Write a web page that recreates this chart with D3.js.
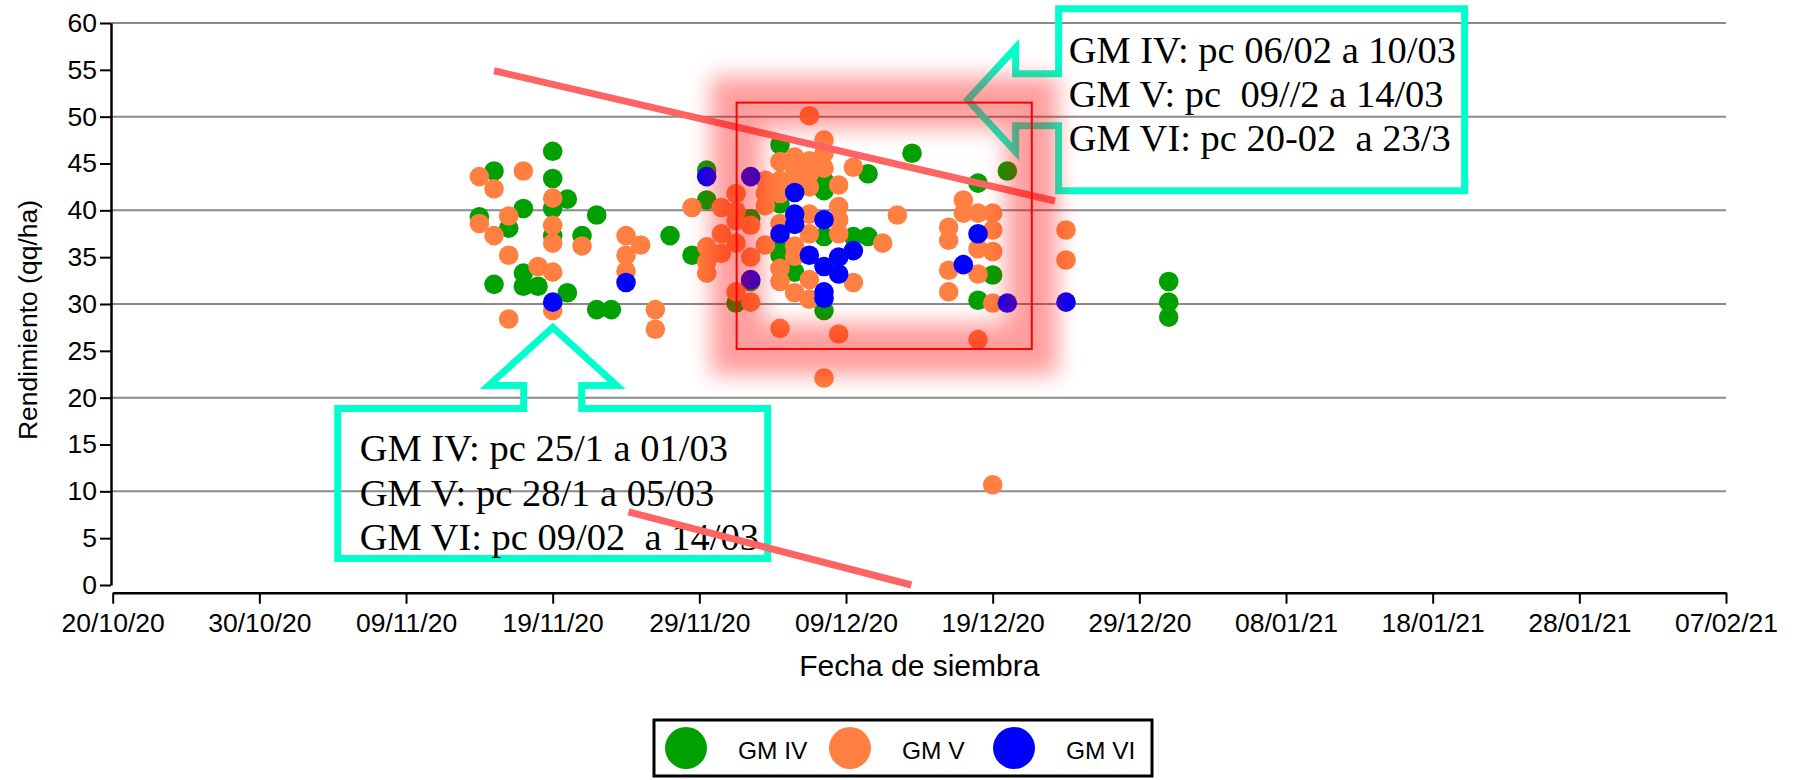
<!DOCTYPE html>
<html lang="es">
<head>
<meta charset="utf-8">
<title>Rendimiento vs fecha de siembra</title>
<script src="https://cdn.jsdelivr.net/npm/d3@7"></script>
<style>
    body { margin: 0; background: #fff; }
    #chart svg { display: block; font-family: "Liberation Sans", Arial, sans-serif; }
    .grid line { stroke: #8a8a8a; stroke-width: 2; }
    .axis path, .axis line { stroke: #000; }
    .axis path { stroke-width: 2.5; }
    .axis line { stroke-width: 2; }
    .axis text { font-size: 26.5px; fill: #000; }
    .note path { fill: none; stroke: #00ffcc; stroke-width: 7; }
    .note text { font-family: "Liberation Serif", serif; font-size: 38.5px; white-space: pre; fill: #000; }
    .legend text { font-size: 24.5px; }
</style>
</head>
<body>
<div id="chart"></div>
<script>
// [fecha de siembra, rendimiento qq/ha]; " 12" = mediodía (puntos que caen entre dos días)
const gmIV = [
    ["2020-11-14", 39.3],
    ["2020-11-15", 44.2], ["2020-11-15", 32.1],
    ["2020-11-16", 38.1],
    ["2020-11-17", 40.2], ["2020-11-17", 33.3], ["2020-11-17", 31.9],
    ["2020-11-18", 31.9],
    ["2020-11-19", 46.3], ["2020-11-19", 43.4], ["2020-11-19", 40.2], ["2020-11-19", 37.3],
    ["2020-11-20", 41.2], ["2020-11-20", 31.2],
    ["2020-11-21", 37.3],
    ["2020-11-22", 39.5], ["2020-11-22", 29.4],
    ["2020-11-23", 29.4],
    ["2020-11-27", 37.3],
    ["2020-11-28 12", 35.2],
    ["2020-11-29 12", 44.3], ["2020-11-29 12", 41.1],
    ["2020-12-01 12", 30.1],
    ["2020-12-02 12", 39.1], ["2020-12-02 12", 32.4],
    ["2020-12-04 12", 47.0], ["2020-12-04 12", 40.7], ["2020-12-04 12", 37.0], ["2020-12-04 12", 35.2],
    ["2020-12-05 12", 33.4],
    ["2020-12-07 12", 43.2], ["2020-12-07 12", 42.1], ["2020-12-07 12", 37.2], ["2020-12-07 12", 29.3],
    ["2020-12-09 12", 37.2],
    ["2020-12-10 12", 43.9], ["2020-12-10 12", 37.2],
    ["2020-12-13 12", 46.1],
    ["2020-12-18", 42.9], ["2020-12-18", 30.4],
    ["2020-12-19", 33.1],
    ["2020-12-20", 44.2],
    ["2020-12-31", 32.4], ["2020-12-31", 30.2], ["2020-12-31", 28.6]
];

const gmV = [
    ["2020-11-14", 43.6], ["2020-11-14", 38.6],
    ["2020-11-15", 42.3], ["2020-11-15", 37.3],
    ["2020-11-16", 39.4], ["2020-11-16", 35.2], ["2020-11-16", 28.4],
    ["2020-11-17", 44.2],
    ["2020-11-18", 34.0],
    ["2020-11-19", 41.3], ["2020-11-19", 38.4], ["2020-11-19", 36.5], ["2020-11-19", 33.4], ["2020-11-19", 29.3],
    ["2020-11-21", 36.2],
    ["2020-11-24", 37.3], ["2020-11-24", 35.2], ["2020-11-24", 33.5],
    ["2020-11-25", 36.3],
    ["2020-11-26", 29.4], ["2020-11-26", 27.3],
    ["2020-11-28 12", 40.3],
    ["2020-11-29 12", 36.1], ["2020-11-29 12", 34.5], ["2020-11-29 12", 33.3],
    ["2020-11-30 12", 40.3], ["2020-11-30 12", 37.5], ["2020-11-30 12", 35.4],
    ["2020-12-01 12", 41.8], ["2020-12-01 12", 39.9], ["2020-12-01 12", 38.9], ["2020-12-01 12", 36.5], ["2020-12-01 12", 31.3],
    ["2020-12-02 12", 38.4], ["2020-12-02 12", 35.0], ["2020-12-02 12", 30.2],
    ["2020-12-03 12", 43.2], ["2020-12-03 12", 41.8], ["2020-12-03 12", 40.5], ["2020-12-03 12", 36.3],
    ["2020-12-04 12", 45.2], ["2020-12-04 12", 43.2], ["2020-12-04 12", 41.8], ["2020-12-04 12", 38.6],
    ["2020-12-04 12", 33.8], ["2020-12-04 12", 32.4], ["2020-12-04 12", 27.4],
    ["2020-12-05 12", 45.7], ["2020-12-05 12", 44.5], ["2020-12-05 12", 43.6], ["2020-12-05 12", 36.2],
    ["2020-12-05 12", 35.1], ["2020-12-05 12", 31.2],
    ["2020-12-06 12", 50.1], ["2020-12-06 12", 45.3], ["2020-12-06 12", 43.9], ["2020-12-06 12", 42.5],
    ["2020-12-06 12", 39.6], ["2020-12-06 12", 37.5], ["2020-12-06 12", 32.6], ["2020-12-06 12", 30.5],
    ["2020-12-07 12", 47.5], ["2020-12-07 12", 46.1], ["2020-12-07 12", 44.5], ["2020-12-07 12", 22.1],
    ["2020-12-08 12", 42.7], ["2020-12-08 12", 40.4], ["2020-12-08 12", 39.0], ["2020-12-08 12", 37.5], ["2020-12-08 12", 26.8],
    ["2020-12-09 12", 44.6], ["2020-12-09 12", 32.3],
    ["2020-12-11 12", 36.5],
    ["2020-12-12 12", 39.5],
    ["2020-12-16", 38.2], ["2020-12-16", 36.8], ["2020-12-16", 33.6], ["2020-12-16", 31.3],
    ["2020-12-17", 41.1], ["2020-12-17", 39.7],
    ["2020-12-18", 39.7], ["2020-12-18", 35.9], ["2020-12-18", 33.2], ["2020-12-18", 26.2],
    ["2020-12-19", 39.7], ["2020-12-19", 37.9], ["2020-12-19", 35.6], ["2020-12-19", 30.1], ["2020-12-19", 10.7],
    ["2020-12-24", 37.9], ["2020-12-24", 34.7]
];

const gmVI = [
    ["2020-11-19", 30.2],
    ["2020-11-24", 32.3],
    ["2020-11-29 12", 43.6],
    ["2020-12-02 12", 43.6], ["2020-12-02 12", 32.6],
    ["2020-12-04 12", 37.5],
    ["2020-12-05 12", 41.9], ["2020-12-05 12", 39.6], ["2020-12-05 12", 38.5],
    ["2020-12-06 12", 35.2],
    ["2020-12-07 12", 39.0], ["2020-12-07 12", 34.0], ["2020-12-07 12", 31.3], ["2020-12-07 12", 30.6],
    ["2020-12-08 12", 35.0], ["2020-12-08 12", 33.2],
    ["2020-12-09 12", 35.7],
    ["2020-12-17", 34.2],
    ["2020-12-18", 37.5],
    ["2020-12-20", 30.1],
    ["2020-12-24", 30.2]
];

const xTicks = ["2020-10-20", "2020-10-30", "2020-11-09", "2020-11-19", "2020-11-29", "2020-12-09",
    "2020-12-19", "2020-12-29", "2021-01-08", "2021-01-18", "2021-01-28", "2021-02-07"];
const yTicks = [0, 5, 10, 15, 20, 25, 30, 35, 40, 45, 50, 55, 60];
const gridValues = [10, 20, 30, 40, 50, 60];

// tendencias dibujadas a mano y recuadro resaltado
const trendUpper = [["2020-11-15", 54.9], ["2020-12-23 06", 41.0]];
const trendLower = [["2020-11-24 04", 7.8], ["2020-12-13 11", 0]];
const highlight = [["2020-12-01 13", 51.5], ["2020-12-21 16", 25.2]];

// recuadros de texto (punta de la flecha en coordenadas de datos)
const noteUpperTip = ["2020-12-17 07", 51.8];
const noteUpper = ["GM IV: pc 06/02 a 10/03", "GM V: pc  09//2 a 14/03", "GM VI: pc 20-02  a 23/3"];
const noteLowerTip = ["2020-11-19", 27.5];
const noteLower = ["GM IV: pc 25/1 a 01/03", "GM V: pc 28/1 a 05/03", "GM VI: pc 09/02  a 14/03"];

const series = [
    { name: "GM IV", color: "#00a000", data: gmIV },
    { name: "GM V", color: "#ff8040", data: gmV },
    { name: "GM VI", color: "#0000ff", data: gmVI }
];

const parseDay = d3.timeParse("%Y-%m-%d");
const parseHour = d3.timeParse("%Y-%m-%d %H");
const parseDate = s => s.length > 10 ? parseHour(s) : parseDay(s);

class ScatterChart {
    constructor(parentElement, series) {
        this.parentElement = parentElement;
        this.series = series;
        this.initVis();
    }

    initVis() {
        let vis = this;

        vis.width = 1794;
        vis.height = 780;

        vis.svg = d3.select("#" + vis.parentElement).append("svg")
            .attr("width", vis.width)
            .attr("height", vis.height);

        // blur for the glow around the highlighted rectangle
        vis.svg.append("defs").append("filter")
            .attr("id", "glow")
            .attr("x", "-40%").attr("y", "-40%")
            .attr("width", "180%").attr("height", "180%")
            .append("feGaussianBlur")
            .attr("stdDeviation", 11);

        // Scales
        vis.x = d3.scaleTime()
            .domain([parseDate(xTicks[0]), parseDate(xTicks[xTicks.length - 1])])
            .range([112.7, 1726]);
        vis.y = d3.scaleLinear()
            .domain([0, 60])
            .range([585, 23]);

        vis.px = d => vis.x(parseDate(d[0]));
        vis.py = d => vis.y(d[1]);

        // Gridlines
        vis.svg.append("g")
            .attr("class", "grid")
            .selectAll("line")
            .data(gridValues)
            .enter().append("line")
            .attr("x1", 111)
            .attr("x2", vis.x.range()[1])
            .attr("y1", d => vis.y(d))
            .attr("y2", d => vis.y(d));

        // Axes
        vis.xAxis = d3.axisBottom(vis.x)
            .tickValues(xTicks.map(parseDate))
            .tickFormat(d3.timeFormat("%d/%m/%y"))
            .tickSize(11)
            .tickSizeOuter(0)
            .tickPadding(9);
        vis.yAxis = d3.axisLeft(vis.y)
            .tickValues(yTicks)
            .tickSize(11)
            .tickSizeOuter(0)
            .tickPadding(3);

        vis.svg.append("g").attr("class", "x-axis axis")
            .attr("transform", "translate(0,592.7)")
            .call(vis.xAxis);
        vis.svg.append("g").attr("class", "y-axis axis")
            .attr("transform", "translate(111,0)")
            .call(vis.yAxis);

        // Axis titles
        vis.svg.append("text")
            .attr("x", (vis.x.range()[0] + vis.x.range()[1]) / 2)
            .attr("y", 676)
            .attr("text-anchor", "middle")
            .style("font-size", "30px")
            .text("Fecha de siembra");

        vis.svg.append("text")
            .attr("transform", "translate(37,320) rotate(-90)")
            .attr("text-anchor", "middle")
            .style("font-size", "26.5px")
            .text("Rendimiento (qq/ha)");

        vis.drawPoints();
        vis.drawNotes();
        vis.drawHighlight();
        vis.drawLegend();
    }

    drawPoints() {
        let vis = this;

        vis.series.forEach(s => {
            vis.svg.append("g")
                .attr("class", "points")
                .selectAll("circle")
                .data(s.data)
                .enter().append("circle")
                .attr("cx", vis.px)
                .attr("cy", vis.py)
                .attr("r", 9.8)
                .attr("fill", s.color);
        });
    }

    drawNotes() {
        let vis = this;

        // lower box, arrow pointing up
        let lx = vis.px(noteLowerTip), ly = vis.py(noteLowerTip);
        let lower = vis.svg.append("g").attr("class", "note");
        let p = d3.path();
        let top = ly + 81, bottom = ly + 231, left = lx - 215, right = lx + 215, base = ly + 58;
        p.moveTo(lx - 29, top);
        p.lineTo(left, top);
        p.lineTo(left, bottom);
        p.lineTo(right, bottom);
        p.lineTo(right, top);
        p.lineTo(lx + 29, top);
        p.lineTo(lx + 29, base);
        p.lineTo(lx + 64, base);
        p.lineTo(lx, ly);
        p.lineTo(lx - 64, base);
        p.lineTo(lx - 29, base);
        p.closePath();
        lower.append("path").attr("d", p.toString());
        lower.selectAll("text")
            .data(noteLower)
            .enter().append("text")
            .attr("x", left + 22)
            .attr("y", (d, i) => ly + 134 + i * 44.5)
            .text(d => d);

        // upper box, arrow pointing left
        let ux = vis.px(noteUpperTip), uy = vis.py(noteUpperTip);
        let upper = vis.svg.append("g").attr("class", "note");
        let q = d3.path();
        let uLeft = ux + 91, uRight = ux + 497, uTop = uy - 91, uBottom = uy + 91, back = ux + 48;
        q.moveTo(uLeft, uy - 26);
        q.lineTo(uLeft, uTop);
        q.lineTo(uRight, uTop);
        q.lineTo(uRight, uBottom);
        q.lineTo(uLeft, uBottom);
        q.lineTo(uLeft, uy + 26);
        q.lineTo(back, uy + 26);
        q.lineTo(back, uy + 52);
        q.lineTo(ux, uy);
        q.lineTo(back, uy - 52);
        q.lineTo(back, uy - 26);
        q.closePath();
        upper.append("path").attr("d", q.toString());
        upper.selectAll("text")
            .data(noteUpper)
            .enter().append("text")
            .attr("x", uLeft + 10)
            .attr("y", (d, i) => uy - 37 + i * 44)
            .text(d => d);

        // hand-drawn trend lines
        let line = d3.line().x(vis.px).y(vis.py);
        [trendUpper, trendLower].forEach(t => {
            vis.svg.append("path")
                .attr("d", line(t))
                .attr("fill", "none")
                .attr("stroke", "#ff6464")
                .attr("stroke-width", 7);
        });
    }

    drawHighlight() {
        let vis = this;

        let x0 = vis.px(highlight[0]), x1 = vis.px(highlight[1]);
        let y0 = vis.py(highlight[0]), y1 = vis.py(highlight[1]);

        vis.svg.append("rect")
            .attr("x", x0).attr("y", y0)
            .attr("width", x1 - x0).attr("height", y1 - y0)
            .attr("fill", "none")
            .attr("stroke", "#ff0000")
            .attr("stroke-width", 52)
            .attr("opacity", 0.38)
            .attr("filter", "url(#glow)");

        vis.svg.append("rect")
            .attr("x", x0).attr("y", y0)
            .attr("width", x1 - x0).attr("height", y1 - y0)
            .attr("fill", "none")
            .attr("stroke", "#ff0000")
            .attr("stroke-width", 2);
    }

    drawLegend() {
        let vis = this;

        let legend = vis.svg.append("g")
            .attr("class", "legend")
            .attr("transform", "translate(654,720)");

        legend.append("rect")
            .attr("width", 498)
            .attr("height", 56)
            .attr("fill", "none")
            .attr("stroke", "#000")
            .attr("stroke-width", 3);

        let items = legend.selectAll(".item")
            .data(vis.series)
            .enter().append("g")
            .attr("class", "item")
            .attr("transform", (d, i) => "translate(" + (32 + i * 164) + ",28)");

        items.append("circle")
            .attr("r", 21)
            .attr("fill", d => d.color);

        items.append("text")
            .attr("x", 52)
            .attr("y", 11)
            .text(d => d.name);
    }
}

new ScatterChart("chart", series);
</script>
</body>
</html>
